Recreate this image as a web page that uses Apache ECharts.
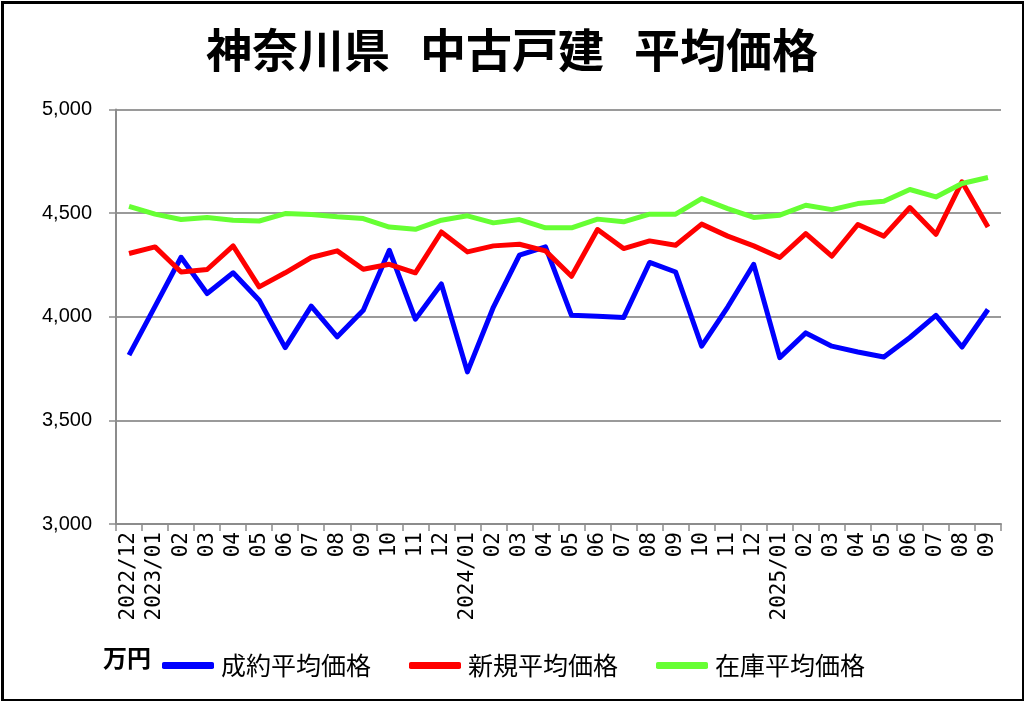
<!DOCTYPE html>
<html><head><meta charset="utf-8">
<script src="https://cdn.jsdelivr.net/npm/echarts@6/dist/echarts.min.js"></script>
<style>html,body{margin:0;padding:0;background:#fff}#c{width:1024px;height:701px}</style>
</head><body><div id="c"></div>
<script>
const categories = ['2022/12','2023/01','02','03','04','05','06','07','08','09','10','11','12',
  '2024/01','02','03','04','05','06','07','08','09','10','11','12',
  '2025/01','02','03','04','05','06','07','08','09'];
const seiyaku = [3815,4050,4287,4112,4212,4080,3851,4051,3903,4031,4321,3988,4158,3734,4047,4297,4337,4007,4002,3996,4262,4216,3858,4047,4253,3803,3922,3858,3830,3806,3900,4007,3854,4035];
const shinki = [4305,4337,4216,4228,4342,4144,4212,4286,4318,4229,4253,4212,4409,4313,4342,4350,4318,4195,4421,4329,4366,4345,4447,4389,4342,4286,4401,4292,4445,4389,4527,4398,4651,4433];
const zaiko = [4533,4495,4469,4479,4466,4462,4498,4493,4482,4474,4433,4422,4466,4487,4453,4469,4429,4429,4471,4458,4495,4495,4570,4522,4479,4490,4538,4517,4546,4557,4614,4578,4643,4672];
const seriesNames = ['成約平均価格','新規平均価格','在庫平均価格'];
const colors = ['#0000ff','#ff0000','#66ff33'];
const yTicks = {min:3000, max:5000, interval:500};

const chart = echarts.init(document.getElementById('c'), null, {renderer:'canvas'});
const jp = '"Noto Sans CJK JP", sans-serif';
chart.setOption({
  backgroundColor:'#fff',
  animation:false,
  title:{
    left:'center', top:22,
    text:'{a|神奈川県}{g|}{a|中古戸建}{g|}{a|平均価格}',
    textStyle:{rich:{
      a:{fontSize:46, fontWeight:'bold', fontFamily:jp, color:'#000'},
      g:{width:30}
    }}
  },
  grid:{left:116, right:23, top:109.5, bottom:177},
  xAxis:{
    type:'category', data:categories, boundaryGap:true,
    axisLine:{lineStyle:{color:'#8c8c8c', width:2}},
    axisTick:{show:true, length:7, lineStyle:{color:'#8c8c8c', width:1.5}},
    axisLabel:{rotate:90, margin:8, interval:0, color:'#000', fontSize:21, fontFamily:'"DejaVu Sans Mono", monospace'}
  },
  yAxis:{
    type:'value', min:yTicks.min, max:yTicks.max, interval:yTicks.interval,
    axisLine:{show:true, lineStyle:{color:'#8c8c8c', width:2}},
    axisTick:{show:true, length:7, lineStyle:{color:'#8c8c8c', width:1.5}},
    splitLine:{lineStyle:{color:'#9a9a9a', width:2}},
    axisLabel:{margin:24, color:'#000', fontSize:20, fontFamily:'"Liberation Sans", sans-serif',
      formatter:v=>v.toLocaleString('en-US')}
  },
  legend:{
    left:157, top:648, icon:'roundRect', itemWidth:52, itemHeight:7, itemGap:38,
    textStyle:{fontSize:25, fontFamily:jp, color:'#000', padding:[0,0,0,2]},
    data:seriesNames
  },
  graphic:[
    {type:'text', left:103, top:646, style:{text:'万円', fontSize:24, fontWeight:'bold', fontFamily:jp, fill:'#000'}},
    {type:'rect', left:0, top:0, shape:{width:1021, height:698}, style:{fill:'none', stroke:'#000', lineWidth:3}, silent:true}
  ],
  series:[seiyaku, shinki, zaiko].map((d,i)=>({
    name:seriesNames[i], type:'line', data:d, symbol:'none', smooth:false,
    lineStyle:{color:colors[i], width:5, join:'round'}, itemStyle:{color:colors[i]}
  }))
});
</script></body></html>
